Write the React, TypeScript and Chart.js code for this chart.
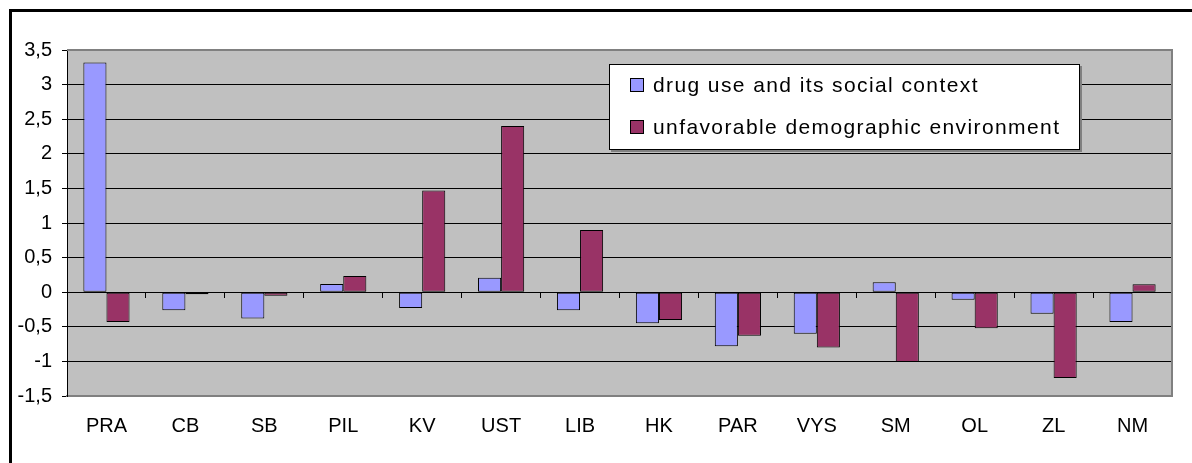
import React, { useEffect, useRef } from 'react';
import { Chart, registerables } from 'chart.js';

Chart.register(...registerables);

const CATEGORIES = ['PRA', 'CB', 'SB', 'PIL', 'KV', 'UST', 'LIB', 'HK', 'PAR', 'VYS', 'SM', 'OL', 'ZL', 'NM'];
const DRUG_USE = [3.32, -0.26, -0.38, 0.12, -0.23, 0.21, -0.26, -0.45, -0.78, -0.6, 0.145, -0.11, -0.31, -0.43];
const DEMOGRAPHIC = [-0.43, -0.03, -0.05, 0.235, 1.47, 2.4, 0.9, -0.4, -0.63, -0.8, -1.01, -0.52, -1.24, 0.115];
const SERIES_LABELS = ['drug use and its social context', 'unfavorable demographic environment'];
const Y_TICK_LABELS = ['-1,5', '-1', '-0,5', '0', '0,5', '1', '1,5', '2', '2,5', '3', '3,5'];
const Y_MIN = -1.5;
const Y_MAX = 3.5;
const Y_STEP = 0.5;

const FONT = '"Liberation Sans", Arial, sans-serif';
const COLORS = ['#9999FF', '#993366'];

const plotPlugin = {
  id: 'plotDecor',
  beforeDraw(chart: any) {
    const { ctx, chartArea } = chart;
    ctx.save();
    ctx.fillStyle = '#C0C0C0';
    ctx.fillRect(chartArea.left, chartArea.top, chartArea.right - chartArea.left, chartArea.bottom - chartArea.top);
    ctx.restore();
  },
  afterDraw(chart: any) {
    const { ctx, chartArea } = chart;
    ctx.save();
    // gray frame on top and right
    ctx.strokeStyle = '#808080';
    ctx.lineWidth = 2;
    ctx.beginPath();
    ctx.moveTo(chartArea.left, chartArea.top);
    ctx.lineTo(chartArea.right, chartArea.top);
    ctx.lineTo(chartArea.right, chartArea.bottom);
    ctx.stroke();

    // legend box
    const bx = 609, by = 64, bw = 471, bh = 86;
    ctx.fillStyle = '#808080';
    ctx.fillRect(bx + 2, by + 2, bw, bh);
    ctx.fillStyle = '#FFFFFF';
    ctx.fillRect(bx, by, bw, bh);
    ctx.strokeStyle = '#000';
    ctx.lineWidth = 1;
    ctx.strokeRect(bx + 0.5, by + 0.5, bw - 1, bh - 1);

    const rows = [85, 127];
    chart.data.datasets.forEach((ds: any, i: number) => {
      const cy = rows[i];
      ctx.fillStyle = ds.backgroundColor;
      ctx.fillRect(630, cy - 7, 14, 14);
      ctx.strokeStyle = '#000';
      ctx.lineWidth = 1;
      ctx.strokeRect(630.5, cy - 6.5, 13, 13);
      ctx.fillStyle = '#000';
      ctx.font = `21px ${FONT}`;
      (ctx as any).letterSpacing = '1.4px';
      ctx.textBaseline = 'middle';
      ctx.textAlign = 'left';
      ctx.fillText(ds.label, 653, cy + 1);
    });
    ctx.restore();
  },
};

export default function App() {
  const canvasRef = useRef<HTMLCanvasElement | null>(null);

  useEffect(() => {
    if (!canvasRef.current) return;
    const chart = new Chart(canvasRef.current, {
      type: 'bar',
      data: {
        labels: CATEGORIES,
        datasets: [
          {
            label: SERIES_LABELS[0],
            data: DRUG_USE,
            backgroundColor: COLORS[0],
            borderColor: '#000',
            borderWidth: 1,
            borderSkipped: false,
            categoryPercentage: 0.585,
            barPercentage: 1,
          },
          {
            label: SERIES_LABELS[1],
            data: DEMOGRAPHIC,
            backgroundColor: COLORS[1],
            borderColor: '#000',
            borderWidth: 1,
            borderSkipped: false,
            categoryPercentage: 0.585,
            barPercentage: 1,
          },
        ],
      },
      options: {
        animation: false,
        responsive: true,
        maintainAspectRatio: false,
        layout: { padding: { left: 0, top: 50, right: 20, bottom: 0 } },
        plugins: {
          legend: { display: false },
          tooltip: { enabled: false },
        },
        scales: {
          x: {
            type: 'category',
            position: 'bottom',
            offset: true,
            grid: { display: false, drawTicks: false },
            border: { display: true, color: '#808080', width: 2 },
            ticks: {
              color: '#000',
              font: { family: FONT, size: 20 },
              padding: 18,
              maxRotation: 0,
              autoSkip: false,
            },
            afterFit: (scale: any) => {
              scale.height = 67;
            },
          },
          x2: {
            type: 'category',
            position: { y: 0 },
            offset: true,
            grid: { offset: true, drawOnChartArea: false, drawTicks: true, tickLength: 5, color: '#000', lineWidth: 1 },
            border: { display: true, color: '#000', width: 1 },
            ticks: { display: false },
          },
          y: {
            min: Y_MIN,
            max: Y_MAX,
            ticks: {
              stepSize: Y_STEP,
              color: '#000',
              font: { family: FONT, size: 20 },
              padding: 10,
              callback: (_v: any, index: number) => Y_TICK_LABELS[index],
            },
            grid: { color: '#000', lineWidth: 1, tickLength: 5, drawTicks: true },
            border: { display: true, color: '#000', width: 1 },
            afterFit: (scale: any) => {
              scale.width = 67;
            },
          },
        },
      } as any,
      plugins: [plotPlugin],
    });
    return () => chart.destroy();
  }, []);

  return (
    <div style={{ position: 'absolute', left: 0, top: 0, width: 1192, height: 463, overflow: 'hidden', background: '#fff' }}>
      <div
        style={{
          position: 'absolute',
          left: 9,
          top: 9,
          width: 1220,
          height: 480,
          border: '3px solid #000',
          boxSizing: 'border-box',
        }}
      />
      <div style={{ position: 'absolute', left: 0, top: 0, width: 1192, height: 463 }}>
        <canvas ref={canvasRef} />
      </div>
    </div>
  );
}
